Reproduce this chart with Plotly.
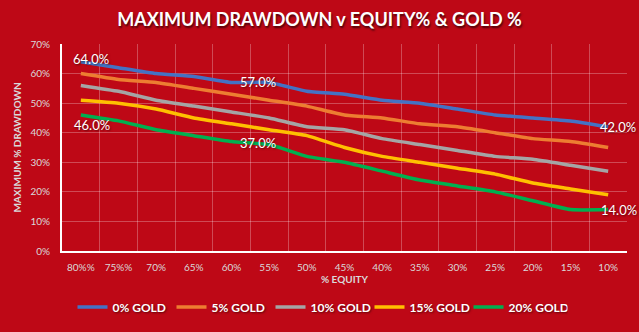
import plotly.graph_objects as go

equity = ["80%%", "75%%", "70%", "65%", "60%", "55%", "50%", "45%", "40%",
          "35%", "30%", "25%", "20%", "15%", "10%"]
gold0 = [64, 62, 60, 59, 57, 57, 54, 53, 51, 50, 48, 46, 45, 44, 42]
gold5 = [60, 58, 57, 55, 53, 51, 49, 46, 45, 43, 42, 40, 38, 37, 35]
gold10 = [56, 54, 51, 49, 47, 45, 42, 41, 38, 36, 34, 32, 31, 29, 27]
gold15 = [51, 50, 48, 45, 43, 41, 39, 35, 32, 30, 28, 26, 23, 21, 19]
gold20 = [46, 44, 41, 39, 37, 36, 32, 30, 27, 24, 22, 20, 17, 14, 14]
series_names = ["0% GOLD", "5% GOLD", "10% GOLD", "15% GOLD", "20% GOLD"]
series_vals = [gold0, gold5, gold10, gold15, gold20]
colors = ["#4472C4", "#ED7D31", "#A5A5A5", "#FFC000", "#00B050"]

BG = "#BE0816"
FONT = "Lato"

fig = go.Figure()
for name, vals, col in zip(series_names, series_vals, colors):
    fig.add_trace(go.Scatter(
        x=equity, y=vals, name=name, mode="lines",
        line=dict(color=col, width=3.5, shape="spline", smoothing=0.4),
        hoverinfo="skip",
    ))

# data labels: (series, index, xshift, yshift)
label_spec = [(gold0, 0, 10, 3), (gold0, 4, 26, 0), (gold0, 14, 10, 0),
              (gold20, 0, 11, -10), (gold20, 4, 26, -1), (gold20, 14, 11, 0)]
annotations = []
for vals, i, xs, ys in label_spec:
    annotations.append(dict(
        x=equity[i], y=vals[i], xref="x", yref="y", text=f"{vals[i]:.1f}%",
        showarrow=False, xshift=xs, yshift=ys,
        font=dict(family=FONT, size=13, color="white",
                  shadow="1px 1px 2px rgba(0,0,0,0.5)"),
    ))

fig.update_layout(
    width=639, height=332,
    paper_bgcolor=BG, plot_bgcolor=BG,
    margin=dict(l=62, r=12, t=44, b=81, autoexpand=False),
    title=dict(
        text="<b>MAXIMUM DRAWDOWN v EQUITY% & GOLD %</b>",
        x=0.5, xanchor="center", y=1 - 20 / 332, yanchor="middle",
        font=dict(family=FONT, size=18, color="white",
                  shadow="1px 2px 2px rgba(0,0,0,0.6)"),
    ),
    showlegend=True,
    legend=dict(
        orientation="h", x=(320 - 62) / 565, xanchor="center",
        y=-0.27, yanchor="middle", yref="paper",
        font=dict(family=FONT, size=12, color="white",
                  weight="bold", shadow="1px 1px 2px rgba(0,0,0,0.5)"),
        bgcolor="rgba(0,0,0,0)", itemwidth=30, traceorder="normal",
        entrywidth=54, entrywidthmode="pixels",
    ),
    annotations=annotations,
)

fig.update_xaxes(
    type="category", tickson="boundaries", range=[-0.5, len(equity) - 0.5],
    showgrid=True, gridcolor="rgba(255,255,255,0.27)", gridwidth=1,
    showline=True, linecolor="white", linewidth=2,
    ticks="", ticklabelstandoff=6, automargin=False,
    tickfont=dict(family=FONT, size=10, color="#D9D9D9"),
    zeroline=False, mirror=False,
    title=dict(text="<b>% EQUITY</b>", standoff=4,
               font=dict(family=FONT, size=10, color="#D9D9D9")),
)
fig.update_yaxes(
    range=[0, 70], dtick=10, ticksuffix="%",
    showgrid=True, gridcolor="rgba(255,255,255,0.27)", gridwidth=1,
    showline=True, linecolor="white", linewidth=2,
    ticks="", ticklabelstandoff=8, automargin=False,
    tickfont=dict(family=FONT, size=10, color="#D9D9D9"),
    zeroline=False,
    title=dict(text="<b>MAXIMUM % DRAWDOWN</b>", standoff=7,
               font=dict(family=FONT, size=10, color="#D9D9D9")),
)

fig.write_html("out.html")
